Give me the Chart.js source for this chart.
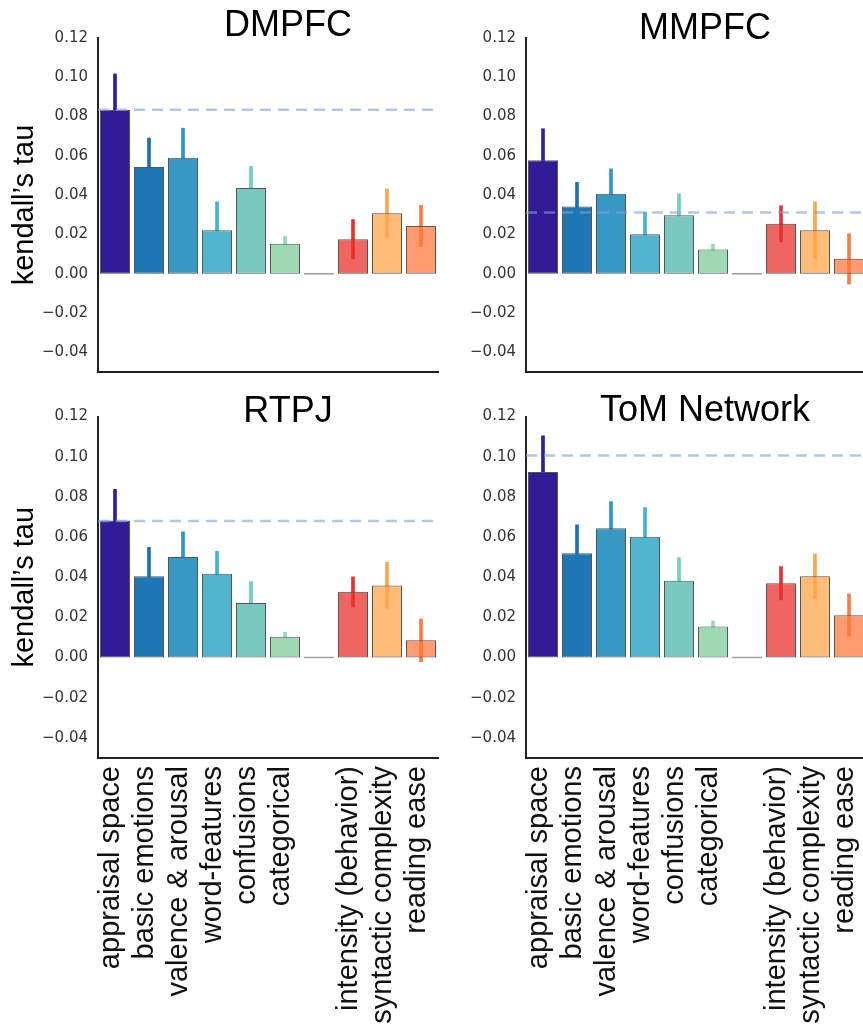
<!DOCTYPE html>
<html><head><meta charset="utf-8">
<script src="https://cdn.jsdelivr.net/npm/chart.js@4.4.1/dist/chart.umd.min.js"></script>
<style>
html,body{margin:0;padding:0;background:#fff;width:863px;height:1035px;overflow:hidden;position:relative}
canvas{position:absolute}
</style></head><body>
<script>
// ---- data ----
const categories = ['appraisal space','basic emotions','valence & arousal','word-features','confusions','categorical','','intensity (behavior)','syntactic complexity','reading ease'];
const yTicks = [-0.04,-0.02,0.00,0.02,0.04,0.06,0.08,0.10,0.12];

const dmpfcTau = [0.0833,0.0544,0.0590,0.0221,0.0436,0.0153,0,0.0176,0.0308,0.0243];
const dmpfcErr = [0.0184,0.0147,0.0151,0.0145,0.0111,0.0037,0,0.0100,0.0123,0.0105];
const dmpfcCeiling = 0.0835;

const mmpfcTau = [0.0578,0.0342,0.0407,0.0201,0.0298,0.0123,0,0.0254,0.0221,0.0076];
const mmpfcErr = [0.0160,0.0123,0.0127,0.0113,0.0109,0.0028,0,0.0092,0.0145,0.0128];
const mmpfcCeiling = 0.0312;

const rtpjTau = [0.0682,0.0405,0.0501,0.0417,0.0272,0.0103,0,0.0327,0.0359,0.0086];
const rtpjErr = [0.0155,0.0144,0.0125,0.0112,0.0106,0.0023,0,0.0075,0.0115,0.0107];
const rtpjCeiling = 0.0680;

const tomTau = [0.0924,0.0519,0.0644,0.0601,0.0382,0.0154,0,0.0370,0.0405,0.0211];
const tomErr = [0.0180,0.0142,0.0133,0.0146,0.0116,0.0027,0,0.0083,0.0110,0.0105];
const tomCeiling = 0.1006;

// ---- styles ----
const barColors = ['#321b96','#1d77b4','#3798c5','#52b5d0','#79c9c0','#9ed9b4','#a0a0a0','rgba(232,49,45,0.75)','rgba(255,165,76,0.75)','rgba(255,122,63,0.75)'];
const edgeColors = ['#555','#555','#555','#555','#555','#555','#a0a0a0','#555','#555','#555'];
const errColors = ['#2d20a0','#1a72b5','#2c95cb','#40b4d6','#70cfc2','#92dcb4','#a0a0a0','#e8312d','#ffa54c','#ff7a3f'];
const SANS = "'Liberation Sans', Arial, sans-serif";

const panels = [
  {title:'DMPFC', tau:dmpfcTau, err:dmpfcErr, ceiling:dmpfcCeiling, left:0, top:0, width:576, height:391, yWidth:98, rWidth:138, xHeight:12, showX:false, showYTitle:true, titlePad:{top:21.8,bottom:8.2}},
  {title:'MMPFC', tau:mmpfcTau, err:mmpfcErr, ceiling:mmpfcCeiling, left:440, top:0, width:530, height:391, yWidth:86, rWidth:104, xHeight:12, showX:false, showYTitle:false, titlePad:{top:25,bottom:5}},
  {title:'RTPJ', tau:rtpjTau, err:rtpjErr, ceiling:rtpjCeiling, left:0, top:380, width:576, height:655, yWidth:98, rWidth:138, xHeight:277, showX:true, showYTitle:true, titlePad:{top:28.5,bottom:0}},
  {title:'ToM Network', tau:tomTau, err:tomErr, ceiling:tomCeiling, left:440, top:380, width:530, height:655, yWidth:86, rWidth:104, xHeight:277, showX:true, showYTitle:false, titlePad:{top:27.5,bottom:1}}
];

const ceilingPlugin = {
  id:'ceiling',
  afterDatasetsDraw(chart, args, opts){
    const y = chart.scales.y.getPixelForValue(opts.value);
    const {ctx, chartArea} = chart;
    ctx.save();
    ctx.setLineDash([11,7]);
    ctx.strokeStyle = 'rgba(130,160,215,0.6)';
    ctx.lineWidth = 2.5;
    ctx.beginPath();
    ctx.moveTo(chartArea.left, y);
    ctx.lineTo(chartArea.right, y);
    ctx.stroke();
    ctx.restore();
  }
};

function fmt(v){
  const r = Math.round(v*100)/100;
  return (r < 0 ? '\u2212' : '') + Math.abs(r).toFixed(2);
}

function buildChart(p){
  const c = document.createElement('canvas');
  c.width = p.width; c.height = p.height;
  c.style.left = p.left+'px'; c.style.top = p.top+'px';
  c.style.width = p.width+'px'; c.style.height = p.height+'px';
  document.body.appendChild(c);
  const errRanges = p.tau.map((v,i)=> p.err[i] ? [v-p.err[i], v+p.err[i]] : null);
  return new Chart(c, {
    type:'bar',
    data:{labels:categories, datasets:[
      {label:"kendall's tau", data:p.tau, backgroundColor:barColors, borderColor:edgeColors, borderWidth:1, borderSkipped:false, minBarLength:2, barPercentage:30/34, categoryPercentage:1, grouped:false, order:0, yAxisID:'y'},
      {label:'error', data:errRanges, backgroundColor:errColors, borderWidth:0, barThickness:3, grouped:false, order:1, yAxisID:'y'}
    ]},
    options:{
      responsive:false, animation:false, devicePixelRatio:1,
      layout:{padding:0},
      plugins:{
        legend:{display:false}, tooltip:{enabled:false},
        title:{display:true, text:p.title, color:'#000', font:{family:SANS, size:36, weight:'normal', lineHeight:8/36}, padding:p.titlePad},
        ceiling:{value:p.ceiling}
      },
      scales:{
        x:{type:'category', offset:true,
           grid:{display:false, drawTicks:false},
           border:{display:true, color:'#222', width:2},
           ticks:{display:p.showX, autoSkip:false, maxRotation:90, minRotation:90, padding:8, labelOffset:-4, color:'#111', font:{family:SANS, size:29}},
           afterFit: s=>{ s.height = p.xHeight; }},
        y:{type:'linear', position:'left', min:-0.05, max:0.12,
           grid:{display:false, drawTicks:false},
           border:{display:true, color:'#222', width:2},
           afterBuildTicks: s=>{ s.ticks = yTicks.map(v=>({value:v})); },
           ticks:{padding:10, color:'#333', font:{family:"'DejaVu Sans', sans-serif", size:15}, callback: v=>fmt(v)},
           title:{display:p.showYTitle, text:'kendall\u2019s tau', color:'#000', font:{family:SANS, size:29}, padding:{top:8,bottom:0}},
           afterFit: s=>{ s.width = p.yWidth; }},
        yr:{type:'linear', position:'right', display:true,
           grid:{display:false, drawTicks:false}, border:{display:false},
           ticks:{display:false},
           afterFit: s=>{ s.width = p.rWidth; }}
      }
    },
    plugins:[ceilingPlugin]
  });
}

panels.forEach(buildChart);
</script>
</body></html>
